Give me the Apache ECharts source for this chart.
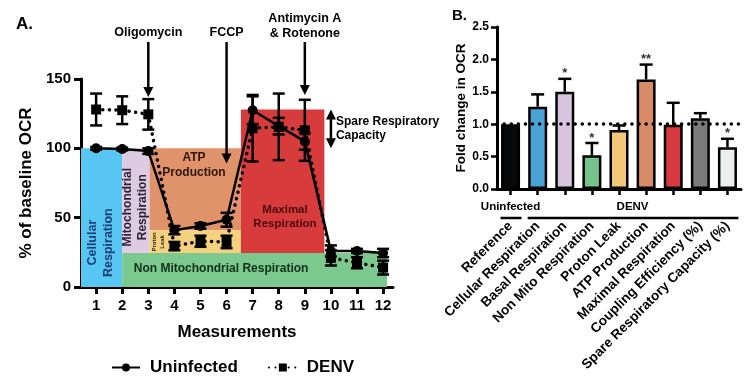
<!DOCTYPE html>
<html><head><meta charset="utf-8">
<script src="https://cdn.jsdelivr.net/npm/echarts@6/dist/echarts.min.js"></script>
<style>html,body{margin:0;padding:0;background:#fff}#c{width:750px;height:377px}</style>
</head><body><div id="c"></div>
<script>
// ---------- Panel A data ----------
const measurements = [1,2,3,4,5,6,7,8,9,10,11,12];
const uninfectedMean = [100, 99.5, 98, 41, 44, 48.5, 127.5, 116, 105, 26, 26, 24.5];
const uninfectedErr  = [1, 1, 2, 3, 2, 5, 10, 6, 6, 4, 1.5, 3];
const denvMean = [128, 127.5, 124.5, 29.5, 33, 32.5, 114.5, 115.5, 113, 21, 17.5, 14];
const denvErr  = [11.5, 10, 11, 3, 4, 4.5, 24, 24, 22, 5.5, 4, 5];
const yTicksA = [0, 50, 100, 150];
// respiration phases: [x0, x1, y0, y1] in axis units
const phaseNames = ['Cellular Respiration','Mitochondrial Respiration','ATP Production','Proton Leak','Maximal Respiration','Non Mitochondrial Respiration'];
const phaseBounds = [[0.42,2,0,100],[2,3.05,24.5,100],[3.05,6.55,41,100],[3.05,6.55,24.5,41],[6.55,9.75,24.5,128],[2,12.15,0,24.5]];
const injections = ['Oligomycin','FCCP','Antimycin A\n& Rotenone'];
const injectionAt = [3, 6, 9];
const spareRange = [100, 128];

// ---------- Panel B data ----------
const categoriesB = ['Reference','Cellular Respiration','Basal Respiration','Non Mito Respiration','Proton Leak','ATP Production','Maximal Respiration','Coupling Efficiency (%)','Spare Respiratory Capacity (%)'];
const foldChange = [1.0, 1.27, 1.5, 0.52, 0.91, 1.69, 0.99, 1.09, 0.645];
const foldErr    = [0, 0.19, 0.2, 0.19, 0.07, 0.23, 0.34, 0.08, 0.13];
const significance = ['', '', '*', '*', '', '**', '', '', '*'];
const groupNames = ['Uninfected', 'DENV'];
const groupRanges = [[0,0],[1,8]];

// ---------- styles ----------
const FONT = 'Liberation Sans, Arial, Helvetica, sans-serif';
const phaseColors = ['#58c6f2','#dccbe3','#e0926b','#f4d17e','#d83b3c','#7bc98e'];
const barColors = ['#070809','#4aa3d4','#d9c4e0','#74c48b','#f1c778','#d98a67','#d73a3e','#7b7b7b','#eceeed'];

const chart = echarts.init(document.getElementById('c'));

function errRender(capHalf, upOnly) {
  return function (params, api) {
    const x = api.value(0), lo = api.value(1), hi = api.value(2);
    const pLo = api.coord([x, lo]), pHi = api.coord([x, hi]);
    const st = { stroke: '#000', lineWidth: 2.5 };
    const ch = [
      { type: 'line', shape: { x1: pLo[0], y1: pLo[1], x2: pHi[0], y2: pHi[1] }, style: st },
      { type: 'line', shape: { x1: pHi[0]-capHalf, y1: pHi[1], x2: pHi[0]+capHalf, y2: pHi[1] }, style: st }
    ];
    if (!upOnly) ch.push({ type: 'line', shape: { x1: pLo[0]-capHalf, y1: pLo[1], x2: pLo[0]+capHalf, y2: pLo[1] }, style: st });
    return { type: 'group', children: ch };
  };
}

const axisLineStyle = { color: '#000', width: 3 };
const boldTxt = (s) => ({ color: '#000', fontWeight: 'bold', fontSize: s, fontFamily: FONT });

chart.setOption({
  animation: false,
  backgroundColor: '#fff',
  grid: [
    { left: 81, top: 79, width: 312, height: 208 },
    { left: 497, top: 27, width: 244, height: 162 }
  ],
  legend: {
    data: ['Uninfected', 'DENV'], left: 106, top: 354, itemWidth: 28, itemHeight: 10, itemGap: 30,
    textStyle: Object.assign(boldTxt(17), { padding: [0,0,0,5] })
  },
  xAxis: [
    { type: 'value', gridIndex: 0, min: 0.42, max: 12.38,
      axisLine: { show: true, onZero: false, lineStyle: axisLineStyle },
      axisTick: { show: true, customValues: measurements, length: 7, lineStyle: { width: 3, color: '#000' } },
      axisLabel: Object.assign({ customValues: measurements, margin: 11 }, boldTxt(15)),
      splitLine: { show: false },
      name: 'Measurements', nameLocation: 'middle', nameGap: 37, nameTextStyle: boldTxt(17) },
    { type: 'category', gridIndex: 1, data: categoriesB,
      axisLine: { show: true, onZero: false, lineStyle: axisLineStyle },
      axisTick: { show: true, alignWithLabel: true, length: 6, lineStyle: { width: 2.5, color: '#000' } },
      axisLabel: Object.assign({ interval: 0, rotate: 45, margin: 35 }, boldTxt(13.6)) }
  ],
  yAxis: [
    { type: 'value', gridIndex: 0, min: 0, max: 150, interval: 50,
      axisLine: { show: true, onZero: false, lineStyle: axisLineStyle },
      axisTick: { show: true, length: 7, lineStyle: { width: 3, color: '#000' } },
      axisLabel: Object.assign({ margin: 10 }, boldTxt(15)),
      splitLine: { show: false },
      name: '% of baseline OCR', nameLocation: 'middle', nameGap: 46, nameTextStyle: boldTxt(17) },
    { type: 'value', gridIndex: 1, min: 0, max: 2.5, interval: 0.5,
      axisLine: { show: true, onZero: false, lineStyle: axisLineStyle },
      axisTick: { show: true, length: 6, lineStyle: { width: 2.5, color: '#000' } },
      axisLabel: Object.assign({ margin: 8, formatter: v => v.toFixed(1) }, boldTxt(12)),
      splitLine: { show: false },
      name: 'Fold change in OCR', nameLocation: 'middle', nameGap: 27, nameTextStyle: boldTxt(13.5) }
  ],
  series: [
    { type: 'custom', name: 'phases', xAxisIndex: 0, yAxisIndex: 0, z: 1, silent: true,
      data: phaseBounds.map((b, i) => ({ name: phaseNames[i], value: b })),
      renderItem: function (params, api) {
        const p0 = api.coord([api.value(0), api.value(3)]);
        const p1 = api.coord([api.value(1), api.value(2)]);
        return { type: 'rect', shape: { x: p0[0], y: p0[1], width: p1[0]-p0[0], height: p1[1]-p0[1] },
                 style: { fill: phaseColors[params.dataIndex] } };
      } },
    { type: 'custom', name: 'errU', xAxisIndex: 0, yAxisIndex: 0, z: 4, silent: true,
      data: measurements.map((m, i) => [m, uninfectedMean[i]-uninfectedErr[i], uninfectedMean[i]+uninfectedErr[i]]),
      renderItem: errRender(6, false) },
    { type: 'custom', name: 'errD', xAxisIndex: 0, yAxisIndex: 0, z: 4, silent: true,
      data: measurements.map((m, i) => [m, denvMean[i]-denvErr[i], denvMean[i]+denvErr[i]]),
      renderItem: errRender(6, false) },
    { type: 'line', name: 'Uninfected', xAxisIndex: 0, yAxisIndex: 0, z: 5,
      data: measurements.map((m, i) => [m, uninfectedMean[i]]),
      symbol: 'circle', symbolSize: 10, itemStyle: { color: '#000' },
      lineStyle: { color: '#000', width: 2.5 } },
    { type: 'line', name: 'DENV', xAxisIndex: 0, yAxisIndex: 0, z: 5,
      data: measurements.map((m, i) => [m, denvMean[i]]),
      symbol: 'rect', symbolSize: 10, itemStyle: { color: '#000' },
      lineStyle: { color: '#000', width: 3.5, type: [0.1, 6.5], cap: 'round' } },
    { type: 'bar', name: 'fold', xAxisIndex: 1, yAxisIndex: 1, z: 2, barWidth: 19,
      data: foldChange.map((v, i) => ({ value: v, itemStyle: { color: barColors[i] } })),
      itemStyle: { borderColor: '#000', borderWidth: 2.5 },
      markLine: { silent: true, symbol: 'none', label: { show: false }, z: 3,
        lineStyle: { color: '#000', width: 3.5, type: [0.1, 7], cap: 'round' },
        data: [{ yAxis: 1 }] } },
    { type: 'custom', name: 'errB', xAxisIndex: 1, yAxisIndex: 1, z: 3, silent: true,
      data: foldChange.map((v, i) => [i, v, v + foldErr[i]]),
      renderItem: function (params, api) {
        const g = errRender(6.5, true)(params, api);
        const s = significance[params.dataIndex];
        if (foldErr[params.dataIndex] === 0) g.children = [];
        if (s) {
          const p = api.coord([api.value(0), api.value(2)]);
          g.children.push({ type: 'text', x: p[0], y: p[1] - 5,
            style: { text: s, fill: '#333', font: 'bold 13px ' + FONT, align: 'center', verticalAlign: 'middle', textAlign: 'center', textVerticalAlign: 'middle' } });
        }
        return g;
      } }
  ]
});

// ---------- annotations ----------
function px(grid, pt) { return chart.convertToPixel({ gridIndex: grid }, pt); }
function txt(x, y, text, size, opts) {
  opts = opts || {};
  return { type: 'text', x: x, y: y, rotation: opts.rot || 0, z: 20, silent: true,
    style: { text: text, fill: opts.color || '#000', font: 'bold ' + size + 'px ' + FONT,
      align: opts.align || 'center', verticalAlign: opts.va || 'middle',
      textAlign: opts.align || 'center', textVerticalAlign: opts.va || 'middle',
      lineHeight: opts.lh || Math.round(size * 1.2) } };
}
function arrowDown(x, y0, y1) {
  return [
    { type: 'line', z: 20, silent: true, shape: { x1: x, y1: y0, x2: x, y2: y1 - 8 }, style: { stroke: '#000', lineWidth: 2.5 } },
    { type: 'polygon', z: 20, silent: true, shape: { points: [[x-5, y1-10], [x+5, y1-10], [x, y1]] }, style: { fill: '#000' } }
  ];
}
const g = [];
g.push(txt(16, 24, 'A.', 17, { align: 'left' }));
g.push(txt(452, 16, 'B.', 15, { align: 'left' }));
// injection arrows
const arrowTips = [137, 89, 138.5];
injections.forEach((name, i) => {
  const p = px(0, [injectionAt[i], arrowTips[i]]);
  if (i === 2) g.push(txt(p[0], 26, name, 12.5, { lh: 15 }));
  else g.push(txt(p[0], 33, name, 12.5));
  g.push(...arrowDown(p[0], 42, p[1]));
});
// spare respiratory capacity double arrow
{
  const a = px(0, [10, spareRange[1]]), b = px(0, [10, spareRange[0]]);
  g.push({ type: 'line', z: 20, silent: true, shape: { x1: a[0], y1: a[1] + 8, x2: a[0], y2: b[1] - 8 }, style: { stroke: '#000', lineWidth: 2.5 } });
  g.push({ type: 'polygon', z: 20, silent: true, shape: { points: [[a[0]-5, a[1]+10], [a[0]+5, a[1]+10], [a[0], a[1]]] }, style: { fill: '#000' } });
  g.push({ type: 'polygon', z: 20, silent: true, shape: { points: [[a[0]-5, b[1]-10], [a[0]+5, b[1]-10], [a[0], b[1]]] }, style: { fill: '#000' } });
  g.push(txt(a[0] + 5, (a[1] + b[1]) / 2, 'Spare Respiratory\nCapacity', 12, { align: 'left', lh: 14 }));
}
// phase labels (anchored in data units)
const R = Math.PI / 2;
const phaseLabelPos = [[1.17, 32], [2.49, 57.5], [4.75, 87.5], [3.37, 32.5], [8.24, 50.5], [5.79, 13]];
const phaseLabelText = ['Cellular\nRespiration', 'Mitochondrial\nRespiration', 'ATP\nProduction', 'Proton\nLeak', 'Maximal\nRespiration', 'Non Mitochondrial Respiration'];
const phaseLabelColor = ['#1d3f78', '#2d2333', '#2e1608', '#2a2410', '#4a0a0c', '#12301a'];
const phaseLabelSize = [12.5, 12, 12, 6, 11.5, 12];
const phaseLabelRot = [R, R, 0, R, 0, 0];
phaseLabelPos.forEach((pp, i) => {
  const p = px(0, pp);
  g.push(txt(p[0], p[1], phaseLabelText[i], phaseLabelSize[i],
    { rot: phaseLabelRot[i], color: phaseLabelColor[i], lh: Math.round(phaseLabelSize[i] * 1.25) }));
});
// group labels under panel B
groupNames.forEach((name, i) => {
  const a = px(1, [groupRanges[i][0], 0]), b = px(1, [groupRanges[i][1], 0]);
  g.push(txt((a[0] + b[0]) / 2, 207, name, 11.5));
  g.push({ type: 'line', z: 20, silent: true, shape: { x1: a[0] - 10, y1: 218, x2: b[0] + 11, y2: 218 }, style: { stroke: '#000', lineWidth: 2.5 } });
});
chart.setOption({ graphic: { elements: g } });
</script>
</body></html>
